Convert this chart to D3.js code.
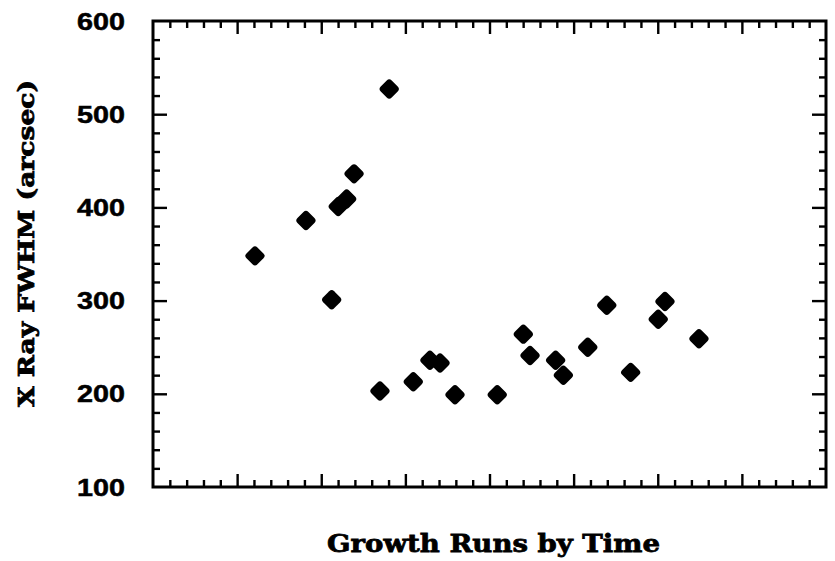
<!DOCTYPE html>
<html><head><meta charset="utf-8">
<script src="https://cdn.jsdelivr.net/npm/d3@7"></script>
<style>body{margin:0;background:#fff}</style>
</head><body>
<svg id="c" width="835" height="561"></svg>
<script>
const runIndex = [6.06, 9.09, 10.62, 11.01, 11.51, 11.95, 13.49, 14.04, 15.47, 16.46, 17.06, 17.95, 20.46, 22.01, 22.41, 23.93, 24.39, 25.84, 26.97, 28.39, 30.03, 30.43, 32.45];
const fwhm = [348, 386, 301, 401, 409, 436, 203, 527, 213, 236, 233, 199, 199, 264, 241, 236, 220, 250, 295, 223, 280, 299, 259];
const yTickLabels = [100, 200, 300, 400, 500, 600];
const xTitle = "Growth Runs by Time";
const yTitle = "X Ray FWHM (arcsec)";

const svg = d3.select("#c");
const L = 153, R = 826, T = 21, B = 487;
const x = d3.scaleLinear().domain([0, 40]).range([L, R]);
const y = d3.scaleLinear().domain([100, 600]).range([B, T]);

const xMinor = d3.range(1, 40).filter(v => v % 5 !== 0);
const xMajor = d3.range(5, 40, 5);
const yMinor = d3.range(120, 600, 20).filter(v => v % 100 !== 0);
const yMajor = [200, 300, 400, 500];

function ticks(axisFn, scale, vals, size, tr) {
  const g = svg.append("g").attr("transform", tr)
    .call(axisFn(scale).tickValues(vals).tickSize(size).tickFormat(""));
  g.select(".domain").remove();
  g.selectAll("line").attr("stroke", "#000").attr("stroke-width", 2.4);
}
ticks(d3.axisTop, x, xMinor, 7, `translate(0,${B})`);
ticks(d3.axisTop, x, xMajor, 13, `translate(0,${B})`);
ticks(d3.axisBottom, x, xMinor, 7, `translate(0,${T})`);
ticks(d3.axisBottom, x, xMajor, 13, `translate(0,${T})`);
ticks(d3.axisRight, y, yMinor, 7, `translate(${L},0)`);
ticks(d3.axisRight, y, yMajor, 14, `translate(${L},0)`);
ticks(d3.axisLeft, y, yMinor, 7, `translate(${R},0)`);
ticks(d3.axisLeft, y, yMajor, 14, `translate(${R},0)`);

svg.append("rect").attr("x", L).attr("y", T).attr("width", R - L).attr("height", B - T)
  .attr("fill", "none").attr("stroke", "#000").attr("stroke-width", 3);

svg.append("g").selectAll("text").data(yTickLabels).join("text")
  .attr("x", 125).attr("y", d => y(d)).attr("dy", "0.36em")
  .attr("text-anchor", "end")
  .attr("font-family", "Liberation Sans, Arial, sans-serif")
  .attr("font-weight", "bold").attr("font-size", 24)
  .attr("stroke", "#000").attr("stroke-width", 0.5)
  .attr("textLength", 48).attr("lengthAdjust", "spacingAndGlyphs")
  .text(d => d);

const s = 15.5;
svg.append("g").selectAll("rect").data(runIndex.map((v, i) => [v, fwhm[i]])).join("rect")
  .attr("x", -s / 2).attr("y", -s / 2).attr("width", s).attr("height", s)
  .attr("rx", 3.5).attr("ry", 3.5)
  .attr("transform", d => `translate(${x(d[0])},${y(d[1])}) rotate(45)`)
  .attr("fill", "#000");

svg.append("text").attr("x", 327).attr("y", 552)
  .attr("font-family", "DejaVu Serif, serif").attr("font-weight", "bold").attr("font-size", 25)
  .attr("stroke", "#000").attr("stroke-width", 0.8)
  .attr("textLength", 333).attr("lengthAdjust", "spacingAndGlyphs")
  .text(xTitle);
svg.append("text").attr("transform", "translate(34,407) rotate(-90)")
  .attr("font-family", "DejaVu Serif, serif").attr("font-weight", "bold").attr("font-size", 23)
  .attr("stroke", "#000").attr("stroke-width", 0.8)
  .attr("textLength", 327).attr("lengthAdjust", "spacingAndGlyphs")
  .text(yTitle);
</script>
</body></html>
